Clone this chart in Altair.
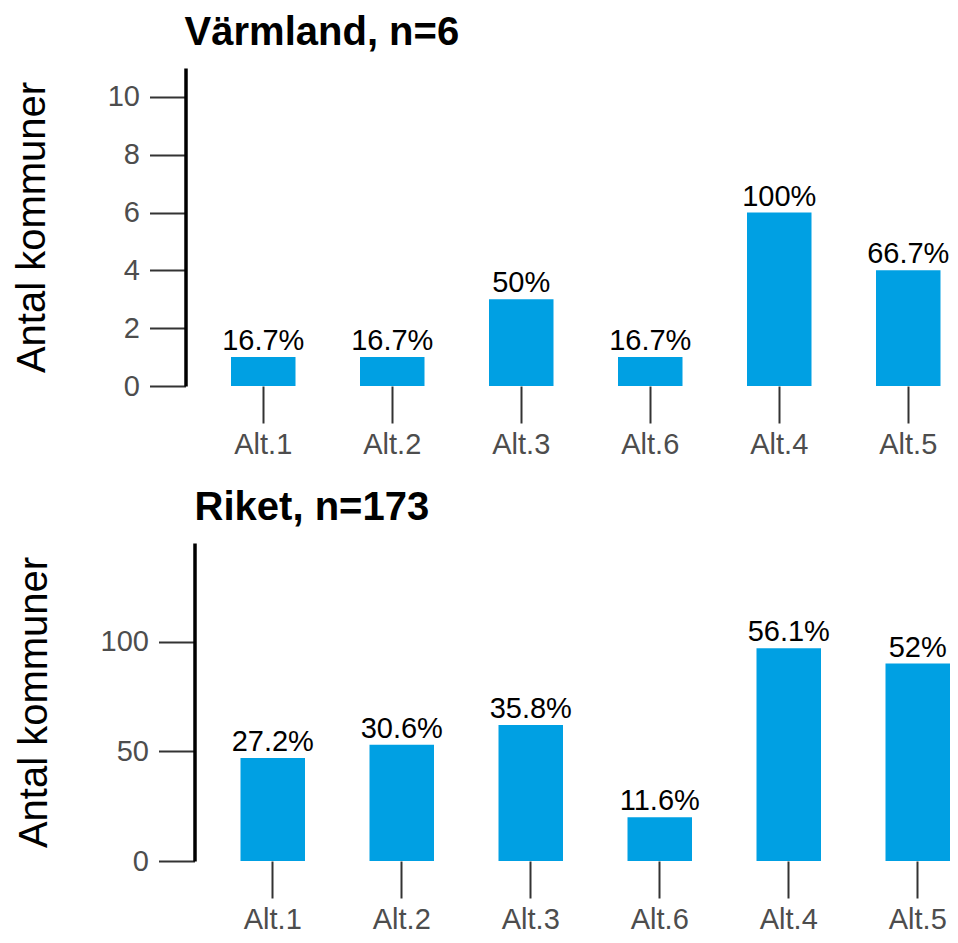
import altair as alt
import pandas as pd

categories = ["Alt.1", "Alt.2", "Alt.3", "Alt.6", "Alt.4", "Alt.5"]
varmland_counts = [1, 1, 3, 1, 6, 4]
varmland_labels = ["16.7%", "16.7%", "50%", "16.7%", "100%", "66.7%"]
riket_counts = [47, 53, 62, 20, 97, 90]
riket_labels = ["27.2%", "30.6%", "35.8%", "11.6%", "56.1%", "52%"]

FONT = "Liberation Sans"
BAR = "#00A0E3"
STEP = 129
HEIGHT = 318


def panel(counts, labels, title, ymax, yticks, y_offset, title_dx, shift, title_pad):
    df = pd.DataFrame({"cat": categories, "n": counts, "lab": labels})
    pad_outer = shift / (2 * STEP)
    x = alt.X(
        "cat:N",
        sort=categories,
        title=None,
        scale=alt.Scale(paddingInner=0.5, paddingOuter=pad_outer, align=1),
        axis=alt.Axis(
            domain=False,
            ticks=True,
            tickSize=37,
            tickColor="#333333",
            tickWidth=2,
            labelFont=FONT,
            labelFontSize=29,
            labelColor="#4d4d4d",
            labelPadding=7,
            labelAngle=0,
        ),
    )
    y = alt.Y(
        "n:Q",
        title="Antal kommuner",
        scale=alt.Scale(domain=[0, ymax], nice=False, zero=True),
        axis=alt.Axis(
            values=yticks,
            grid=False,
            offset=y_offset,
            domain=True,
            domainColor="black",
            domainWidth=3.5,
            tickSize=36,
            tickColor="#333333",
            tickWidth=2,
            labelFont=FONT,
            labelFontSize=29,
            labelColor="#4d4d4d",
            labelPadding=10,
            titleFont=FONT,
            titleFontSize=40,
            titleFontWeight="normal",
            titleColor="black",
            titlePadding=title_pad,
        ),
    )
    base = alt.Chart(df)
    bars = base.mark_bar(color=BAR).encode(x=x, y=y)
    text = base.mark_text(
        baseline="bottom", font=FONT, fontSize=29, color="black", dy=-1
    ).encode(x=alt.X("cat:N", sort=categories), y="n:Q", text="lab:N")
    w = STEP * 5.5 + shift
    return (bars + text).properties(
        width=w,
        height=HEIGHT,
        title=alt.TitleParams(
            title,
            anchor="start",
            frame="group",
            font=FONT,
            fontSize=40,
            fontWeight="bold",
            color="black",
            offset=15,
            dx=title_dx,
        ),
    )


top = panel(varmland_counts, varmland_labels, "Värmland, n=6", 11,
            [0, 2, 4, 6, 8, 10], 45.5, -46.4, 0, 55)
bottom = panel(riket_counts, riket_labels, "Riket, n=173", 145,
               [0, 50, 100], 36.5, -36.4, 9.5, 46)

chart = (
    alt.vconcat(top, bottom, spacing=157, bounds="flush")
    .resolve_scale(x="independent", y="independent")
    .configure_view(stroke=None)
    .properties(padding={"top": 5, "left": 4, "right": 0, "bottom": 0})
)

chart.save("out.html", embed_options={"renderer": "svg", "actions": False})
